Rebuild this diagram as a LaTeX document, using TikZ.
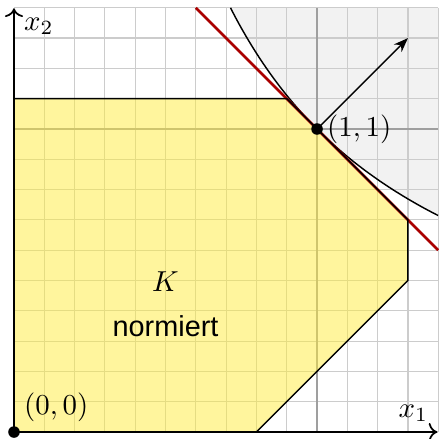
\documentclass[tikz,border=0pt]{standalone}
\usepackage{fontspec}
\newfontfamily\labelsans{Liberation Sans}
\usetikzlibrary{arrows.meta}
\definecolor{kfill}{RGB}{255,236,60}
\definecolor{hgray}{RGB}{242,242,242}
\definecolor{darkred}{RGB}{170,0,0}
\begin{document}
\begin{tikzpicture}[x=3.69cm,y=3.69cm,
  gridline/.style={draw=gray!40, line width=0.4pt},
  majorline/.style={draw=gray!75, line width=0.5pt},
  kregion/.style={fill=kfill, fill opacity=0.5},
  edge/.style={draw=black, line width=0.5pt},
  axis/.style={draw=black, line width=0.6pt, -{To[length=3pt]}},
  vec/.style={draw=black, line width=0.5pt, -{Stealth[length=5pt]}},
  dot/.style={circle, fill=black, inner sep=0pt, minimum size=4pt},
  lbl/.style={inner sep=3.33pt}]
\useasboundingbox (-0.0462,-0.023) rectangle (1.3993,1.4257);
\coordinate (O) at (0,0);
\coordinate (P) at (1,1);
\coordinate (V) at (1.3,1.3);
\coordinate (X1) at (1.397,0);
\coordinate (X2) at (0,1.398);
% gray region x1*x2 >= 1
\fill[hgray] plot[domain=0.7143:1.4, samples=60, smooth] (\x,{1/\x}) -- (1.4,1.4) -- cycle;
% grid
\draw[gridline] (0,0) grid[step=0.1] (1.4,1.4);
\draw[majorline] (1,0) -- (1,1.4);
\draw[majorline] (0,1) -- (1.4,1);
% K
\fill[kregion] (0,0) -- (0,1.1) -- (0.9,1.1) -- (1.3,0.7) -- (1.3,0.5) -- (0.8,0) -- cycle;
% hyperbola
\draw[black, line width=0.5pt] plot[domain=0.7143:1.4, samples=60, smooth] (\x,{1/\x});
% tangent line
\draw[darkred, line width=0.9pt] (0.6,1.4) -- (1.4,0.6);
% K outline
\draw[edge] (0,1.1) -- (0.9,1.1) -- (1.3,0.7) -- (1.3,0.5) -- (0.8,0);
% axes
\draw[axis] (O) -- (X1);
\draw[axis] (O) -- (X2);
\draw[vec] (P) -- (V);
\node[dot] (Od) at (O) {};
\node[dot] (Pd) at (P) {};
\node[lbl, anchor=west] (Pl) at (P) {$(1,1)$};
\node[lbl, anchor=south west] (Ol) at (O) {$(0,0)$};
\node[lbl, anchor=south east] (x1l) at (1.4,0) {$x_1$};
\node[lbl, anchor=north west] (x2l) at (0,1.4) {$x_2$};
\node (Kl) at (0.5,0.497) {$K$};
\node (nl) at (0.5,0.35) {\labelsans normiert};
\end{tikzpicture}
\end{document}
